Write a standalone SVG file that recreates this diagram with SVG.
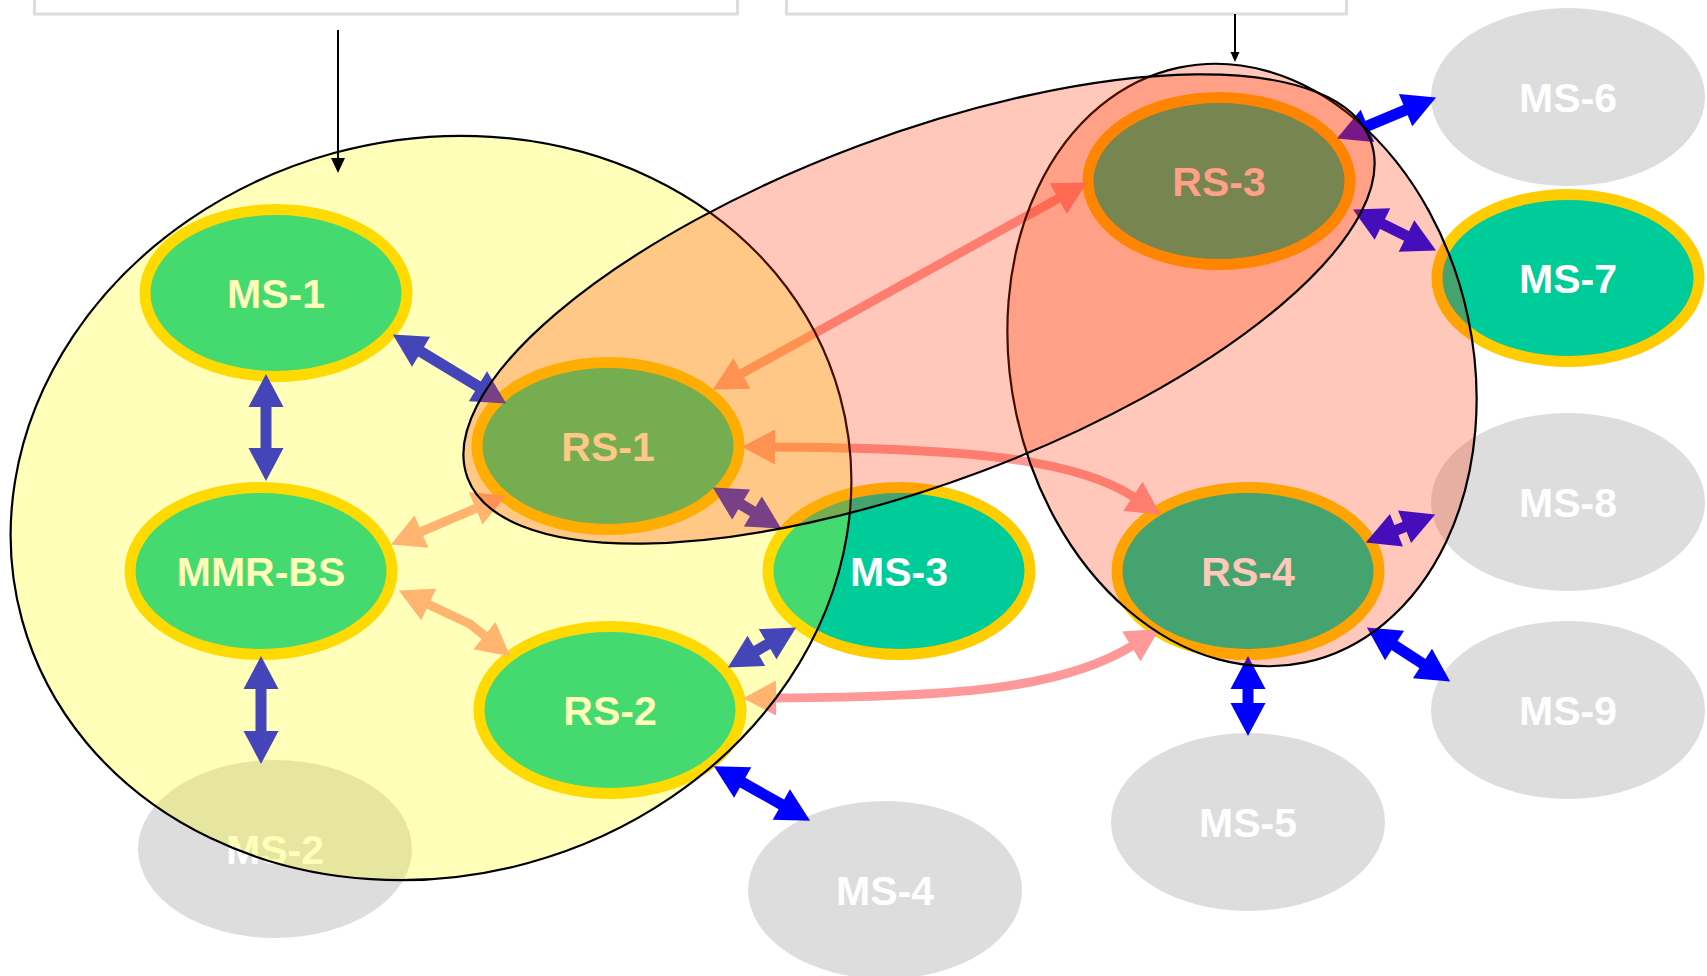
<svg xmlns="http://www.w3.org/2000/svg" width="1707" height="976" viewBox="0 0 1707 976">
  <style>
    .node ellipse { fill: #00CC99; stroke: #FFCC00; stroke-width: 11; }
    .idle ellipse { fill: #DDDDDD; stroke: none; }
    .label { font-family: "Liberation Sans", Arial, sans-serif; font-weight: bold; font-size: 41px; fill: #FFFFFF; text-anchor: middle; }
    .link-blue { stroke: #0000FF; stroke-width: 11; fill: none; marker-start: url(#head-blue); marker-end: url(#head-blue); }
    .link-salmon { stroke: #FF9999; stroke-width: 9; fill: none; marker-start: url(#head-salmon); marker-end: url(#head-salmon); }
    .zone-yellow { fill: #FFFF00; fill-opacity: 0.27; stroke: #000000; stroke-width: 2.2; }
    .zone-red { fill: #FF3300; fill-opacity: 0.27; stroke: #000000; stroke-width: 2.2; }
    .callout { fill: #FFFFFF; stroke: #DDDDDD; stroke-width: 3; }
    .pointer { stroke: #000000; stroke-width: 2; }
  </style>
  <defs>
    <marker id="head-blue" markerUnits="userSpaceOnUse" orient="auto-start-reverse" viewBox="0 -20 40 40" markerWidth="40" markerHeight="40" refX="1" refY="0" overflow="visible">
      <path d="M0,-17.5 L33,0 L0,17.5 Z" fill="#0000FF"/>
    </marker>
    <marker id="head-salmon" markerUnits="userSpaceOnUse" orient="auto-start-reverse" viewBox="0 -20 40 40" markerWidth="40" markerHeight="40" refX="1" refY="0" overflow="visible">
      <path d="M0,-17.5 L33,0 L0,17.5 Z" fill="#FF9999"/>
    </marker>
  </defs>

  <rect width="1707" height="976" fill="#FFFFFF"/>

  <!-- stations -->
  <g id="node-ms1" class="node"><ellipse cx="276" cy="293" rx="131" ry="83.5"/><text class="label" x="276" y="308">MS-1</text></g>
  <g id="node-mmr-bs" class="node"><ellipse cx="261" cy="571" rx="131" ry="83.5"/><text class="label" x="261" y="586">MMR-BS</text></g>
  <g id="node-ms2" class="idle"><ellipse cx="275" cy="849" rx="137" ry="89"/><text class="label" x="275" y="864">MS-2</text></g>
  <g id="node-rs1" class="node"><ellipse cx="608" cy="446" rx="131" ry="83.5"/><text class="label" x="608" y="461">RS-1</text></g>
  <g id="node-rs2" class="node"><ellipse cx="610" cy="710" rx="131" ry="83.5"/><text class="label" x="610" y="725">RS-2</text></g>
  <g id="node-ms3" class="node"><ellipse cx="899" cy="571" rx="131" ry="83.5"/><text class="label" x="899" y="586">MS-3</text></g>
  <g id="node-ms4" class="idle"><ellipse cx="885" cy="890" rx="137" ry="89"/><text class="label" x="885" y="905">MS-4</text></g>
  <g id="node-rs3" class="node"><ellipse cx="1219" cy="181" rx="131" ry="83.5"/><text class="label" x="1219" y="196">RS-3</text></g>
  <g id="node-rs4" class="node"><ellipse cx="1248" cy="571" rx="131" ry="83.5"/><text class="label" x="1248" y="586">RS-4</text></g>
  <g id="node-ms5" class="idle"><ellipse cx="1248" cy="822" rx="137" ry="89"/><text class="label" x="1248" y="837">MS-5</text></g>
  <g id="node-ms6" class="idle"><ellipse cx="1568" cy="97" rx="137" ry="89"/><text class="label" x="1568" y="112">MS-6</text></g>
  <g id="node-ms7" class="node"><ellipse cx="1568" cy="278" rx="131" ry="83.5"/><text class="label" x="1568" y="293">MS-7</text></g>
  <g id="node-ms8" class="idle"><ellipse cx="1568" cy="502" rx="137" ry="89"/><text class="label" x="1568" y="517">MS-8</text></g>
  <g id="node-ms9" class="idle"><ellipse cx="1568" cy="710" rx="137" ry="89"/><text class="label" x="1568" y="725">MS-9</text></g>

  <!-- links -->
  <g id="connectors">
    <line class="link-blue" x1="266" y1="406" x2="266" y2="449"/>
    <line class="link-blue" x1="261" y1="688" x2="261" y2="732"/>
    <line class="link-blue" x1="420.2" y1="351.2" x2="478.8" y2="386.8"/>
    <line class="link-blue" x1="740.3" y1="504" x2="753.7" y2="512"/>
    <line class="link-blue" x1="755.5" y1="651.3" x2="768.5" y2="643.7"/>
    <line class="link-blue" x1="741.8" y1="782.1" x2="782.2" y2="804.9"/>
    <line class="link-blue" x1="1366.5" y1="126.3" x2="1406.5" y2="109.7"/>
    <line class="link-blue" x1="1381.6" y1="223.6" x2="1407.4" y2="236.4"/>
    <line class="link-blue" x1="1395.5" y1="530.5" x2="1405.5" y2="526.5"/>
    <line class="link-blue" x1="1393.7" y1="644.9" x2="1423.3" y2="664.1"/>
    <line class="link-blue" x1="1248" y1="688" x2="1248" y2="704"/>

    <line class="link-salmon" x1="420.4" y1="532" x2="476.6" y2="508"/>
    <path class="link-salmon" d="M427.8,604.1 L470,624 L485.3,636.3"/>
    <line class="link-salmon" x1="740.9" y1="374" x2="1059.1" y2="198"/>
    <path class="link-salmon" d="M774,447 C940,448 1070,455 1133.7,497"/>
    <path class="link-salmon" d="M775,698 C950,697 1060,690 1132.2,645.8"/>
  </g>

  <!-- relay zones -->
  <g id="zone-bs">
    <ellipse class="zone-yellow" cx="431" cy="508" rx="424" ry="368" transform="rotate(-15.3 431 508)"/>
  </g>
  <g id="zone-rs4">
    <ellipse class="zone-red" cx="1242" cy="365" rx="231" ry="304" transform="rotate(-12 1242 365)"/>
  </g>
  <g id="zone-rs1-rs3">
    <ellipse class="zone-red" cx="919" cy="309" rx="482" ry="174" transform="rotate(-20.5 919 309)"/>
  </g>

  <!-- callout boxes and pointers -->
  <g id="callout-left">
    <rect class="callout" x="34.5" y="-40" width="703" height="54"/>
    <line class="pointer" x1="338" y1="30" x2="338" y2="160"/>
    <polygon points="331,158 345,158 338,173" fill="#000000"/>
  </g>
  <g id="callout-right">
    <rect class="callout" x="786.5" y="-40" width="560" height="54"/>
    <line class="pointer" x1="1235" y1="14" x2="1235" y2="54"/>
    <polygon points="1230.5,52 1239.5,52 1235,62" fill="#000000"/>
  </g>
</svg>
